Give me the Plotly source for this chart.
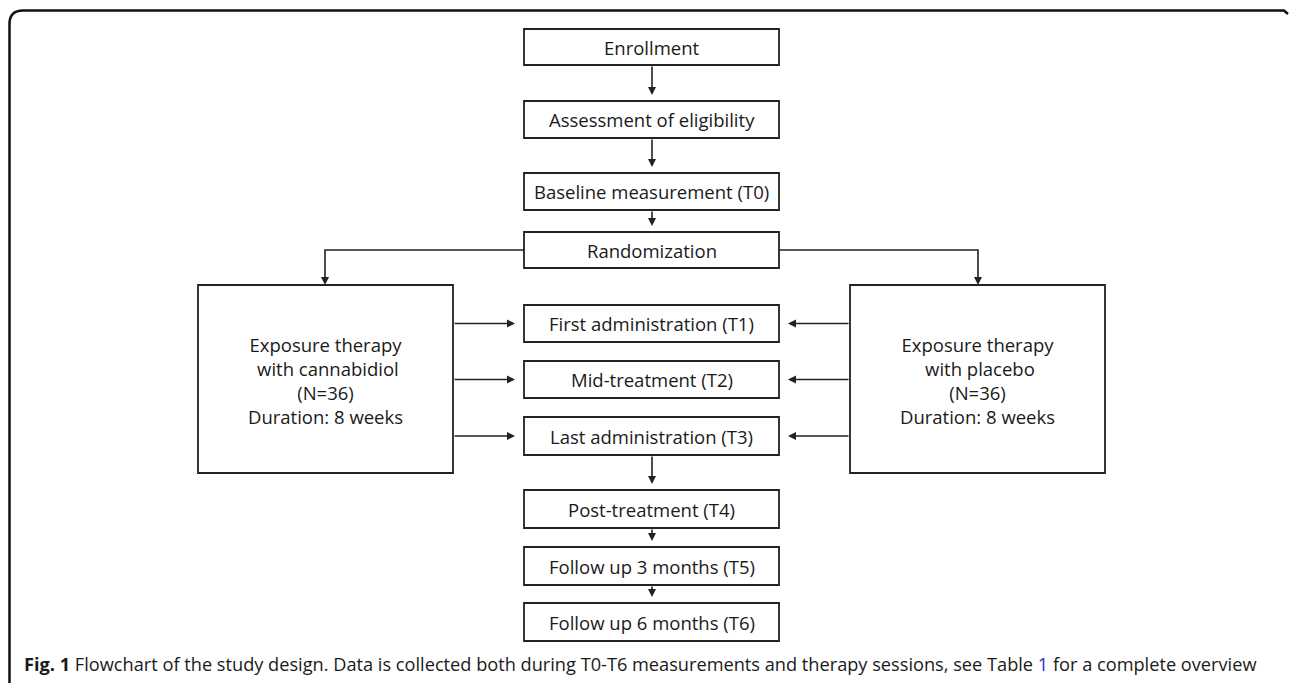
import plotly.graph_objects as go

# ---- content ----
center_labels = ["Enrollment", "Assessment of eligibility", "Baseline measurement (T0)",
                 "Randomization", "First administration (T1)", "Mid-treatment (T2)",
                 "Last administration (T3)", "Post-treatment (T4)",
                 "Follow up 3 months (T5)", "Follow up 6 months (T6)"]
left_label = ["Exposure therapy", " with cannabidiol", "(N=36)", "Duration: 8 weeks"]
right_label = ["Exposure therapy", " with placebo", "(N=36)", "Duration: 8 weeks"]
caption_bold = "Fig. 1"
caption_text = (" Flowchart of the study design. Data is collected both during T0-T6 measurements "
                "and therapy sessions, see Table ")
caption_link = "1"
caption_end = " for a complete overview"

# ---- geometry (pixel layout) ----
cx0, cx1 = 524, 779
center_y = [(29, 65), (101, 138), (173, 210), (232, 268), (305, 342),
            (361, 398), (417, 455), (490, 528), (547, 585), (603, 641)]
left_box = (198, 285, 453, 473)
right_box = (850, 285, 1105, 473)

LC = "#222222"
FONT = "Open Sans"
BOX_FS = 18.5
fig = go.Figure()
shapes = []
ann = []

# outer frame
shapes.append(dict(type="path", path="M 9.5,690 L 9.5,24 Q 9.5,10.5 23,10.5 L 1284,10.5 L 1288,14",
                   line=dict(color="#111111", width=2.5), xref="x", yref="y"))

for lab, (y0, y1) in zip(center_labels, center_y):
    shapes.append(dict(type="rect", x0=cx0, x1=cx1, y0=y0, y1=y1,
                       line=dict(color=LC, width=1.8), xref="x", yref="y"))
    ann.append(dict(x=(cx0 + cx1) / 2, y=(y0 + y1) / 2, text=lab, showarrow=False,
                    font=dict(family=FONT, size=BOX_FS, color="#1a1a1a"),
                    xref="x", yref="y"))

for box, lab in [(left_box, left_label), (right_box, right_label)]:
    x0, y0, x1, y1 = box
    shapes.append(dict(type="rect", x0=x0, x1=x1, y0=y0, y1=y1,
                       line=dict(color=LC, width=1.8), xref="x", yref="y"))
    ann.append(dict(x=(x0 + x1) / 2, y=(y0 + y1) / 2 + 1, text="<br>".join(lab),
                    showarrow=False, align="center",
                    font=dict(family=FONT, size=BOX_FS, color="#1a1a1a"),
                    xref="x", yref="y"))

def arrow(xt, yt, xs, ys):
    ann.append(dict(x=xt, y=yt, ax=xs, ay=ys, xref="x", yref="y", axref="x", ayref="y",
                    showarrow=True, arrowhead=2, arrowsize=1.0, arrowwidth=1.6,
                    arrowcolor=LC, text="", standoff=0))

xc = 652
# vertical center arrows
for i in [0, 1, 2, 6, 7, 8]:
    y_from = center_y[i][1]
    y_to = center_y[i + 1][0] - 6
    arrow(xc, y_to, xc, y_from)

# randomization branches
ry = 250
shapes.append(dict(type="path", path=f"M {cx0},{ry} L 325,{ry} L 325,{left_box[1]-6}",
                   line=dict(color=LC, width=1.6), xref="x", yref="y"))
arrow(325, left_box[1], 325, left_box[1] - 8)
shapes.append(dict(type="path", path=f"M {cx1},{ry} L 978,{ry} L 978,{right_box[1]-6}",
                   line=dict(color=LC, width=1.6), xref="x", yref="y"))
arrow(978, right_box[1], 978, right_box[1] - 8)

# side arrows to T1..T3
for i in [4, 5, 6]:
    y = (center_y[i][0] + center_y[i][1]) / 2
    arrow(cx0 - 9, y, left_box[2], y)
    arrow(cx1 + 9, y, right_box[0], y)

caption = (f"<b>{caption_bold}</b>{caption_text}"
           f"<span style='color:#2b2bd6'>{caption_link}</span>{caption_end}")
ann.append(dict(x=22, y=664, text=caption, showarrow=False, xanchor="left",
                yanchor="middle", xref="x", yref="y",
                font=dict(family=FONT, size=18.2, color="#1a1a1a")))

fig.update_layout(width=1290, height=683, margin=dict(l=0, r=0, t=0, b=0),
                  paper_bgcolor="white", plot_bgcolor="white",
                  shapes=shapes, annotations=ann, showlegend=False,
                  xaxis=dict(range=[0, 1290], visible=False, fixedrange=True),
                  yaxis=dict(range=[683, 0], visible=False, fixedrange=True))
fig.write_html("out.html", config={"displayModeBar": False},
               post_script="document.body.style.margin='0';document.body.style.overflow='hidden';")
